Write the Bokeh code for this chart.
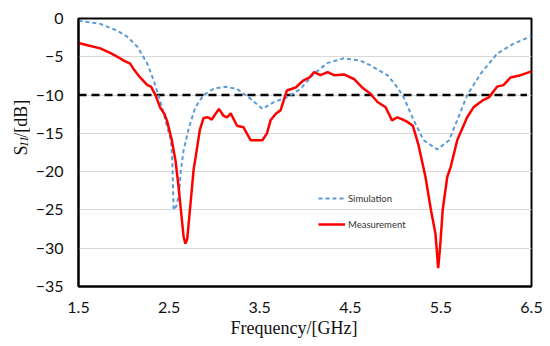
import math
from bokeh.plotting import figure
from bokeh.layouts import row
from bokeh.models import Range1d, FixedTicker, Label, Legend, LegendItem, Title
from bokeh.embed import file_html
from bokeh.resources import INLINE

# ---- data ----
x_ticks = [1.5, 2.5, 3.5, 4.5, 5.5, 6.5]
y_ticks = [-35, -30, -25, -20, -15, -10, -5, 0]

sim_f = [1.50, 1.74, 1.93, 2.04, 2.15, 2.26, 2.33, 2.39, 2.44, 2.48, 2.52, 2.535,
         2.55, 2.58, 2.61, 2.63, 2.66, 2.72, 2.79, 2.88, 2.99, 3.12, 3.25, 3.38,
         3.53, 3.66, 3.80, 3.95, 4.10, 4.25, 4.43, 4.61, 4.72, 4.91, 5.02, 5.09,
         5.20, 5.31, 5.46, 5.59, 5.70, 5.79, 5.94, 6.12, 6.30, 6.50]
sim_s = [-0.3, -0.7, -1.6, -2.4, -3.7, -5.9, -8.1, -10.3, -12.4, -14.2, -15.9, -18.5,
         -25.0, -24.5, -22.9, -19.8, -17.2, -14.2, -11.6, -10.0, -9.2, -8.9, -9.2, -10.3,
         -11.8, -10.9, -10.3, -9.2, -7.2, -5.8, -5.2, -5.5, -6.1, -7.4, -9.0, -10.3,
         -13.3, -15.9, -17.1, -15.9, -12.7, -10.0, -7.2, -4.6, -3.3, -2.3]

meas_f = [1.50, 1.60, 1.74, 1.85, 1.93, 2.00, 2.07, 2.12, 2.18, 2.26, 2.30, 2.35,
          2.40, 2.45, 2.48, 2.53, 2.57, 2.60, 2.63, 2.66, 2.68, 2.70, 2.73, 2.77,
          2.81, 2.84, 2.88, 2.93, 2.97, 3.05, 3.10, 3.14, 3.18, 3.25, 3.32, 3.40,
          3.53, 3.58, 3.62, 3.68, 3.73, 3.80, 3.85, 3.90, 3.98, 4.05, 4.10, 4.17,
          4.25, 4.32, 4.43, 4.54, 4.63, 4.72, 4.80, 4.89, 4.96, 5.02, 5.08, 5.13,
          5.19, 5.25, 5.33, 5.39, 5.44, 5.47, 5.49, 5.52, 5.57, 5.61, 5.68, 5.79,
          5.86, 5.96, 6.03, 6.12, 6.19, 6.27, 6.38, 6.50]
meas_s = [-3.2, -3.5, -3.9, -4.5, -5.0, -5.5, -5.9, -6.8, -7.7, -8.7, -8.9, -10.0,
          -11.6, -12.5, -13.5, -15.9, -18.5, -21.5, -25.0, -28.5, -29.4, -28.8, -25.0, -19.8,
          -16.8, -14.5, -13.0, -12.9, -13.2, -11.8, -12.7, -12.9, -12.4, -14.0, -14.2, -15.9,
          -15.9, -15.0, -13.3, -12.4, -12.0, -9.4, -9.2, -9.0, -8.1, -7.7, -7.0, -7.4,
          -7.0, -7.4, -7.3, -7.9, -9.0, -9.8, -10.9, -11.6, -13.3, -12.9, -13.2, -13.5,
          -14.0, -16.4, -20.7, -25.0, -28.1, -32.6, -30.0, -25.0, -20.7, -19.3, -15.9, -12.9,
          -11.6, -10.7, -10.3, -8.9, -8.7, -7.7, -7.4, -6.9]

ref_f = [1.5, 6.45]
ref_s = [-10, -10]

# ---- layout geometry (page px) ----
H = 346
LW = 30                      # narrow strip that carries the y title
W = 550 - LW
BL, BR, BT, BB = 78 - LW, 19, 18, 60
X0, X1, Y0, Y1 = 1.5, 6.5, -35, 0

# ---- y-axis title strip ----
lf = figure(width=LW, height=H, output_backend="svg", toolbar_location=None,
            x_range=Range1d(0, LW), y_range=Range1d(0, H),
            x_axis_type=None, y_axis_type=None,
            min_border=0, min_border_left=0, min_border_right=0,
            min_border_top=0, min_border_bottom=0)
lf.outline_line_color = None
lf.grid.visible = False
lf.border_fill_color = "white"
lf.background_fill_color = "white"
rot = math.pi / 2
lf.add_layout(Label(x=20, y=H - 177, text="S", angle=rot, text_align="left",
                    text_baseline="alphabetic", text_font="Liberation Serif",
                    text_font_size="18px", text_color="#111111"))
lf.add_layout(Label(x=23.5, y=H - 166, text="11", angle=rot, text_align="left",
                    text_baseline="alphabetic", text_font="Liberation Serif",
                    text_font_style="italic", text_font_size="12px", text_color="#111111"))
lf.add_layout(Label(x=20, y=H - 154, text="/[dB]", angle=rot, text_align="left",
                    text_baseline="alphabetic", text_font="Liberation Serif",
                    text_font_size="18px", text_color="#111111"))

# ---- main chart ----
p = figure(width=W, height=H, output_backend="svg", toolbar_location=None,
           x_range=Range1d(X0, X1), y_range=Range1d(Y0, Y1),
           min_border_left=BL, min_border_right=BR, min_border_top=BT, min_border_bottom=BB)

p.outline_line_color = "black"
p.outline_line_width = 2
p.xgrid.grid_line_color = None
p.ygrid.grid_line_color = "#d9d9d9"
p.ygrid.grid_line_width = 1
p.background_fill_color = "white"
p.border_fill_color = "white"

p.xaxis.ticker = FixedTicker(ticks=x_ticks)
p.yaxis.ticker = FixedTicker(ticks=y_ticks)
for ax in (p.xaxis, p.yaxis):
    ax.axis_line_color = "black"
    ax.axis_line_width = 2
    ax.major_tick_line_color = None
    ax.minor_tick_line_color = None
    ax.major_tick_out = 0
    ax.major_tick_in = 0
    ax.major_label_text_font = "Lato"
    ax.major_label_text_font_size = "16px"
    ax.major_label_text_color = "#111111"
p.xaxis.major_label_standoff = 15
p.yaxis.major_label_standoff = 15

r_ref = p.line(ref_f, ref_s, line_color="black", line_width=2.5, line_dash="8 5")
r_sim = p.line(sim_f, sim_s, line_color="#5b9bd5", line_width=2, line_dash="4 3")
r_meas = p.line(meas_f, meas_s, line_color="#ff0000", line_width=2.5)

legend = Legend(items=[LegendItem(label="Simulation", renderers=[r_sim]),
                       LegendItem(label="Measurement", renderers=[r_meas])],
                location=(240, 54), orientation="vertical")
legend.border_line_color = None
legend.background_fill_alpha = 0
legend.padding = 0
legend.margin = 0
legend.spacing = 10
legend.glyph_width = 27
legend.glyph_height = 16
legend.label_height = 16
legend.label_standoff = 3
legend.label_text_font = "Lato"
legend.label_text_font_size = "9.5px"
legend.label_text_color = "#333333"
p.add_layout(legend, "center")

xt = Title(text="Frequency/[GHz]", align="left", offset=152, standoff=0,
           text_font="Liberation Serif", text_font_size="18px",
           text_font_style="normal", text_color="#111111")
p.add_layout(xt, "below")

open("out.html", "w").write(file_html(row(lf, p), INLINE))
